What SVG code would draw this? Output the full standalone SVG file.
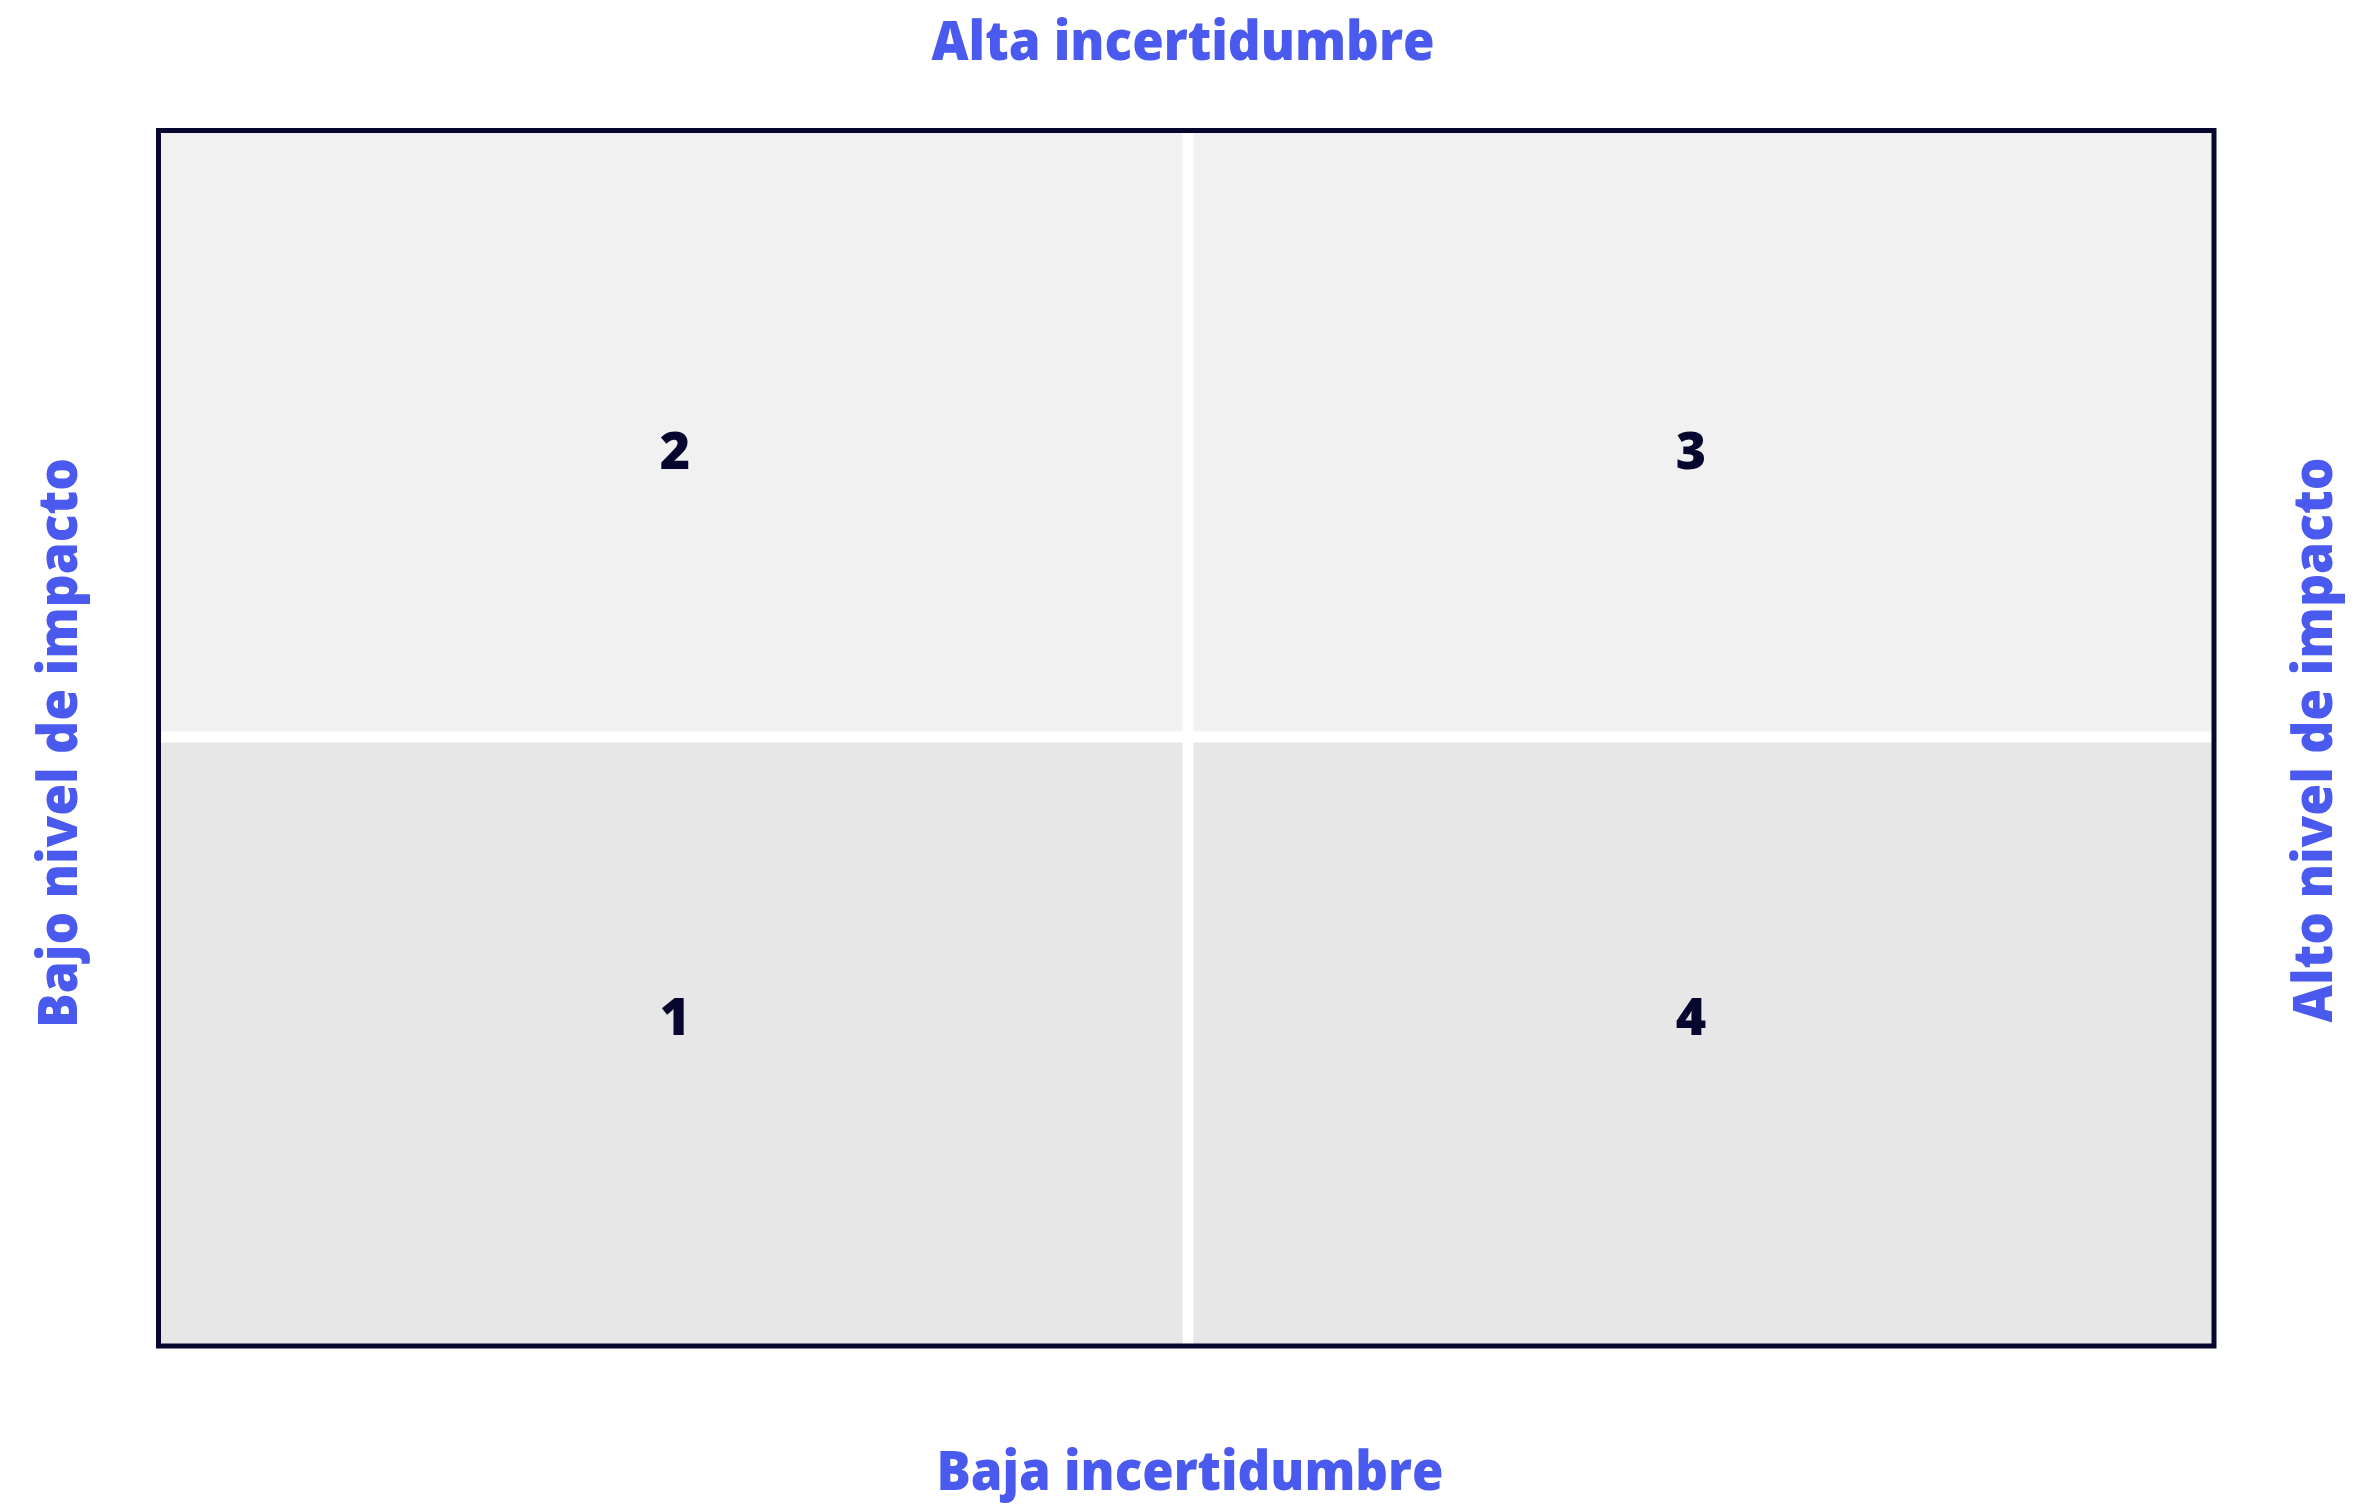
<svg xmlns="http://www.w3.org/2000/svg" width="2377" height="1504" viewBox="0 0 2377 1504">
<style>
.axis{font-family:"Open Sans","DejaVu Sans",sans-serif;font-weight:800;font-size:54px;fill:#4B5AEE;text-anchor:middle}
.num{font-family:"Open Sans","DejaVu Sans",sans-serif;font-weight:800;font-size:52px;fill:#06062E;text-anchor:middle}
</style>
<rect width="2377" height="1504" fill="#ffffff"/>
<g id="q2"><rect x="158" y="130" width="1030" height="607" fill="#f1f1f1"/><text class="num" x="675" y="469">2</text></g>
<g id="q3"><rect x="1188" y="130" width="1026" height="607" fill="#f1f1f1"/><text class="num" x="1691" y="469">3</text></g>
<g id="q1"><rect x="158" y="737" width="1030" height="609" fill="#e7e7e7"/><text class="num" x="675" y="1035">1</text></g>
<g id="q4"><rect x="1188" y="737" width="1026" height="609" fill="#e7e7e7"/><text class="num" x="1691" y="1035">4</text></g>
<g id="connectors">
<line x1="1188" y1="133" x2="1188" y2="1344" stroke="#ffffff" stroke-width="11"/>
<line x1="161" y1="737" x2="2212" y2="737" stroke="#ffffff" stroke-width="11"/>
</g>
<g id="frame"><rect x="158.5" y="130.5" width="2055.5" height="1215.5" fill="none" stroke="#06062E" stroke-width="5"/></g>
<g id="labels">
<text class="axis" x="1183" y="60" textLength="503" lengthAdjust="spacingAndGlyphs">Alta incertidumbre</text>
<text class="axis" x="1190" y="1490" textLength="507" lengthAdjust="spacingAndGlyphs">Baja incertidumbre</text>
<text class="axis" transform="translate(77,743) rotate(-90)" textLength="570" lengthAdjust="spacingAndGlyphs">Bajo nivel de impacto</text>
<text class="axis" transform="translate(2332,740) rotate(-90)" textLength="565" lengthAdjust="spacingAndGlyphs">Alto nivel de impacto</text>
</g>
</svg>
